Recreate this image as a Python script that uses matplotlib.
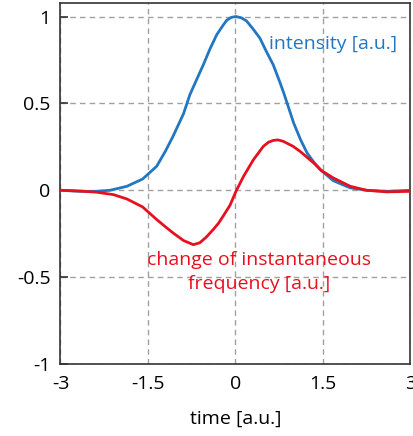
import matplotlib

matplotlib.use("Agg")
import matplotlib.pyplot as plt

# values
time_intensity = [-3.0, -2.67, -2.44, -2.15, -1.86, -1.59, -1.35, -1.2, -1.07, -0.89,
                  -0.78, -0.66, -0.55, -0.44, -0.32, -0.22, -0.15, -0.07, 0.01, 0.1,
                  0.19, 0.3, 0.42, 0.53, 0.65, 0.76, 0.83, 1.0, 1.12, 1.23,
                  1.35, 1.47, 1.68, 1.97, 2.25, 2.6, 3.0]
intensity = [0.0, -0.006, -0.007, 0.0, 0.023, 0.065, 0.138, 0.225, 0.31, 0.44,
             0.55, 0.64, 0.722, 0.81, 0.895, 0.945, 0.978, 0.995, 1.0, 0.993,
             0.975, 0.93, 0.876, 0.8, 0.722, 0.625, 0.56, 0.387, 0.29, 0.215,
             0.16, 0.115, 0.055, 0.014, 0.0, -0.006, 0.0]

time_freq = [-3.0, -2.67, -2.38, -2.09, -1.86, -1.59, -1.35, -1.2, -1.07, -0.89,
             -0.72, -0.61, -0.5, -0.38, -0.29, -0.21, -0.09, 0.01, 0.14, 0.31,
             0.48, 0.57, 0.65, 0.73, 0.82, 0.99, 1.11, 1.23, 1.35, 1.47,
             1.68, 1.97, 2.25, 2.6, 3.0]
freq_change = [0.0, -0.004, -0.011, -0.025, -0.05, -0.096, -0.168, -0.21, -0.245, -0.289,
               -0.313, -0.302, -0.27, -0.226, -0.19, -0.149, -0.085, -0.006, 0.08, 0.176,
               0.253, 0.277, 0.287, 0.29, 0.282, 0.253, 0.224, 0.19, 0.155, 0.115,
               0.071, 0.023, 0.0, -0.009, -0.006]

x_ticks = [-3, -1.5, 0, 1.5, 3]
x_labels = ["-3", "-1.5", "0", "1.5", "3"]
y_ticks = [-1, -0.5, 0, 0.5, 1]
y_labels = ["-1", "-0.5", "0", "0.5", "1"]

BLUE = "#2277c0"
RED = "#e8101e"
FONT = "Open Sans"

fig = plt.figure(figsize=(4.14, 4.36), dpi=100)
ax = fig.add_axes([0.146, 0.165, 0.845, 0.827])

ax.plot(time_intensity, intensity, color=BLUE, lw=2.0,
        solid_capstyle="round", solid_joinstyle="round", zorder=3)
ax.plot(time_freq, freq_change, color=RED, lw=2.0,
        solid_capstyle="round", solid_joinstyle="round", zorder=3)

ax.set_xlim(-3, 3)
ax.set_ylim(-1, 1.075)
ax.set_xticks(x_ticks)
ax.set_xticklabels(x_labels, fontfamily=FONT, fontsize=14)
ax.set_yticks(y_ticks)
ax.set_yticklabels(y_labels, fontfamily=FONT, fontsize=14)
ax.tick_params(direction="in", length=6, width=1.2, color="#333333", pad=7)
ax.tick_params(axis="x", length=0, pad=8)

ax.grid(True, color="#a0a0a0", linestyle=(0, (4, 3)), linewidth=1.0)
for s in ax.spines.values():
    s.set_color("#333333")
    s.set_linewidth(1.2)

ax.set_xlabel("time [a.u.]", fontfamily=FONT, fontsize=14, labelpad=12)

ax.text(0.58, 0.84, "intensity [a.u.]", color=BLUE, fontfamily=FONT, fontsize=14,
        ha="left", va="center")
ax.text(0.4, -0.47, "change of instantaneous\nfrequency [a.u.]", color=RED,
        fontfamily=FONT, fontsize=14, ha="center", va="center", linespacing=1.4)

fig.savefig("out.png", dpi=100)
